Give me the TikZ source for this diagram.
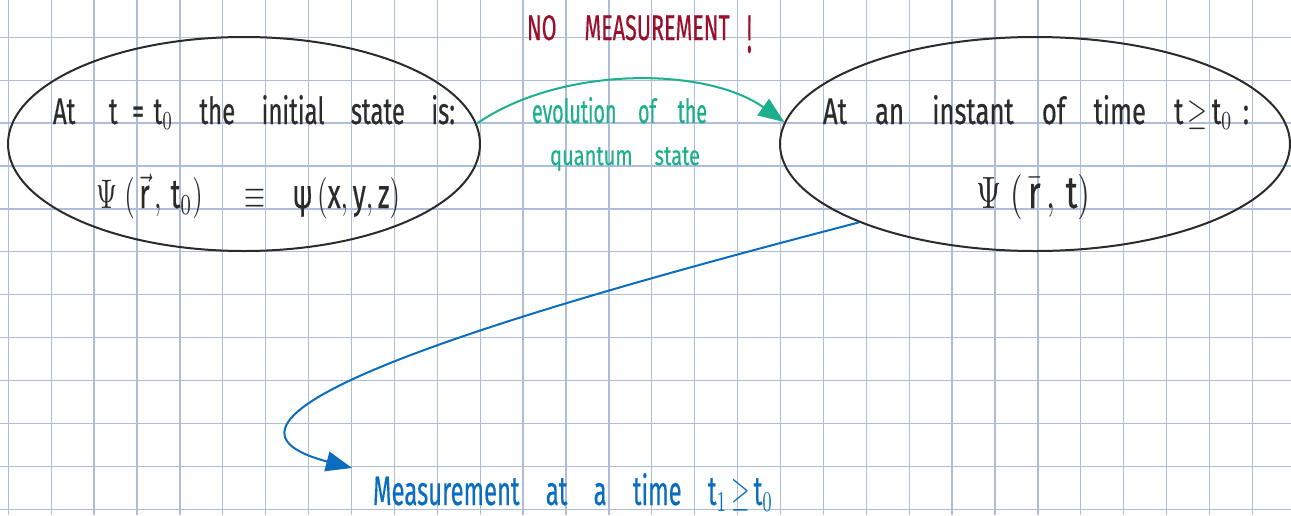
\documentclass[tikz,border=0pt]{standalone}
\usepackage{fontspec}
\setmainfont{Fira Sans}[FakeBold=0.5]
\usepackage{graphicx}
\usetikzlibrary{arrows.meta,shapes.geometric}
\definecolor{ink}{HTML}{2B2B2B}
\definecolor{gridc}{HTML}{AEBDD8}
\definecolor{redc}{HTML}{9A0F2A}
\definecolor{greenc}{HTML}{1EAF8C}
\definecolor{bluec}{HTML}{0B6DBE}
\newcommand\hw[3]{\resizebox{#1}{#2}{#3}}
\newcommand\gap{\hspace{1.1em}}
\begin{document}
\begin{tikzpicture}[x=1pt,y=-1pt,
  txt/.style={anchor=base west,inner sep=0pt,outer sep=0pt},
  state/.style={draw=ink,line width=2pt,ellipse,inner sep=0pt},
  conn/.style={line width=2pt,-{Triangle[length=26pt,width=20pt]}},
  gridline/.style={gridc,line width=1.3pt}]
\useasboundingbox (0,0) rectangle (1291,515);
\fill[white] (0,0) rectangle (1291,515);
\foreach \k in {0,...,29} \draw[gridline] ({8.3+42.9*\k},0) -- ({8.3+42.9*\k},515);
\foreach \k in {0,...,11} \draw[gridline] (0,{37.3+42.9*\k}) -- (1291,{37.3+42.9*\k});

\node[state,minimum width=472pt,minimum height=214pt] (L) at (244,144) {};
\node[state,minimum width=510pt,minimum height=214pt] (R) at (1035,144) {};

\node[txt,text=ink] (L1) at (53,124) {\hw{402pt}{29pt}{At\hspace{1.4em}t\hspace{0.6em}=\hspace{0.4em}t$_0$\gap the\gap initial\gap state\gap is:}};
\node[txt,text=ink] (L2) at (96,208) {\hw{304pt}{34pt}{$\Psi\;(\,\vec{\mathrm{r}}\,,\,\mathrm{t}_0)\quad\;\equiv\;\;\;$\,ψ\,$(\mathrm{x},\mathrm{y},\mathrm{z})$}};

\node[txt,text=ink] (R1) at (823,124) {\hw{426pt}{29pt}{At\gap an\gap instant\gap of\gap time\gap t\,$\geq$\,t$_0$\hspace{0.4em}:}};
\node[txt,text=ink] (R2) at (976,208) {\hw{114pt}{34pt}{$\Psi\;(\,\bar{\mathrm{r}}\,,\,\mathrm{t})$}};

\node[txt,text=redc] (N) at (527,40) {\hw{225pt}{25pt}{NO\hspace{1.3em}MEASUREMENT\hspace{0.8em}\raisebox{-0.35em}{\scalebox{1}[1.5]{!}}}};

\node[txt,text=greenc] (E1) at (532,123) {\hw{175pt}{26pt}{evolution\gap of\gap the}};
\node[txt,text=greenc] (E2) at (550,165) {\hw{150pt}{18pt}{quantum\gap state}};

\node[txt,text=bluec] (M) at (373,505) {\hw{400pt}{32pt}{Measurement\gap at\gap a\gap time\gap t$_1$\,$\geq$\,t$_0$}};

\draw[conn,greenc] (L.5) .. controls (560,66) and (705,66) .. (R.175);
\draw[conn,bluec] (R.204) .. controls (560,300) and (150,415) .. ([xshift=-21pt,yshift=5pt]M.north west);
\end{tikzpicture}
\end{document}
